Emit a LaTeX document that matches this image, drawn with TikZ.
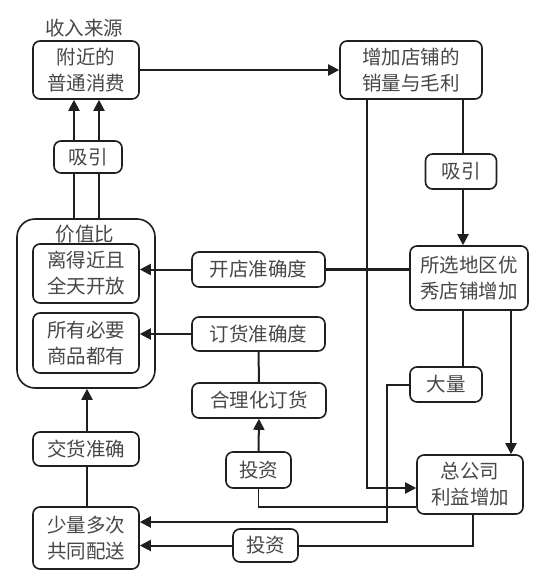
\documentclass[tikz,border=0pt]{standalone}
\usepackage{fontspec}
\newfontfamily\cjk{Noto Sans CJK SC}
\usetikzlibrary{arrows.meta,calc}
\begin{document}
\begin{tikzpicture}[x=1pt,y=-1pt,
  txt/.style={font=\cjk\fontsize{19.5}{26}\selectfont, text=black!72, align=center, inner sep=0pt},
  box/.style={txt, draw=black!88, line width=1.6pt, rounded corners=7pt},
  conn/.style={draw=black!88, line width=2pt},
  thick conn/.style={draw=black!88, line width=2.8pt},
  thin conn/.style={draw=black!88, line width=1.3pt},
  arr/.style={-{Triangle[length=11pt,width=11pt]}}
]
\useasboundingbox (0,0) rectangle (555,578);

% outer value box
\node[box, rounded corners=18pt, minimum width=138pt, minimum height=169pt] (vbox) at (86,303.5) {};
\node[txt] (vlabel) at (85,234) {价值比};

\node[txt] (srclabel) at (84,28) {收入来源};
\node[box, minimum width=106pt, minimum height=58pt] (near) at (86,70) {附近的\\普通消费};
\node[box, minimum width=142pt, minimum height=58pt] (inc) at (411,70) {增加店铺的\\销量与毛利};
\node[box, minimum width=68pt, minimum height=32pt] (attr1) at (88,157) {吸引};
\node[box, minimum width=71pt, minimum height=35pt] (attr2) at (461,171.5) {吸引};
\node[box, minimum width=106pt, minimum height=59pt] (close) at (86,273.5) {离得近且\\全天开放};
\node[box, minimum width=106pt, minimum height=60pt] (all) at (86,343) {所有必要\\商品都有};
\node[box, minimum width=133pt, minimum height=35pt] (openacc) at (258.5,269.5) {开店准确度};
\node[box, minimum width=133pt, minimum height=34pt] (orderacc) at (258.5,334) {订货准确度};
\node[box, minimum width=118pt, minimum height=64pt] (sel) at (469,278) {所选地区优\\秀店铺增加};
\node[box, minimum width=72pt, minimum height=35pt] (big) at (446,384.5) {大量};
\node[box, minimum width=134pt, minimum height=35pt] (rational) at (259,400.5) {合理化订货};
\node[box, minimum width=65pt, minimum height=36pt] (inv1) at (258.5,470) {投资};
\node[box, minimum width=106pt, minimum height=59pt] (hq) at (470,484.5) {总公司\\利益增加};
\node[box, minimum width=65pt, minimum height=33pt] (inv2) at (265.5,545.5) {投资};
\node[box, minimum width=106pt, minimum height=34pt] (deliv) at (86,449) {交货准确};
\node[box, minimum width=106pt, minimum height=62pt] (few) at (86,538) {少量多次\\共同配送};

% column / turn coordinates
\coordinate (xa) at (74,0);
\coordinate (xb) at (99,0);
\coordinate (xc) at (367,0);
\coordinate (xd) at (463,0);
\coordinate (xe) at (511,0);
\coordinate (xg) at (473,0);
\coordinate (xh) at (87,0);
\coordinate (turnF) at (387,522);

% connectors
\draw[conn, arr] (near.east) -- (inc.west);
\draw[conn] (vbox.north -| xa) -- (attr1.south -| xa);
\draw[conn] (vbox.north -| xb) -- (attr1.south -| xb);
\draw[conn, arr] (attr1.north -| xa) -- (near.south -| xa);
\draw[conn, arr] (attr1.north -| xb) -- (near.south -| xb);

\draw[thick conn] (inc.south -| xd) -- (attr2.north -| xd);
\draw[conn, arr] (attr2.south -| xd) -- (sel.north -| xd);
\draw[conn, arr] (inc.south -| xc) |- ($(hq.west)+(0,3.5)$);

\draw[conn, arr] (openacc.west) -- (openacc.west -| close.east);
\draw[thick conn] (openacc.east) -- (openacc.east -| sel.west);
\draw[conn, arr] (orderacc.west) -- (orderacc.west -| all.east);
\draw[conn] (orderacc.south) -- (rational.north);
\draw[conn, arr] (inv1.north) -- (rational.south);
\draw[thin conn] (inv1.south) |- ($(hq.west)+(0,22.5)$);

\draw[thick conn] (sel.south -| xd) -- (big.north -| xd);
\draw[conn, arr] (sel.south -| xe) -- (hq.north -| xe);
\draw[conn, arr] (big.west) -| (turnF) -- (turnF -| few.east);
\draw[conn] (hq.south -| xg) |- (inv2.east);
\draw[conn, arr] (inv2.west) -- (inv2.west -| few.east);

\draw[thick conn] (few.north -| xh) -- (deliv.south -| xh);
\draw[conn, arr] (deliv.north -| xh) -- (vbox.south -| xh);
\end{tikzpicture}
\end{document}
